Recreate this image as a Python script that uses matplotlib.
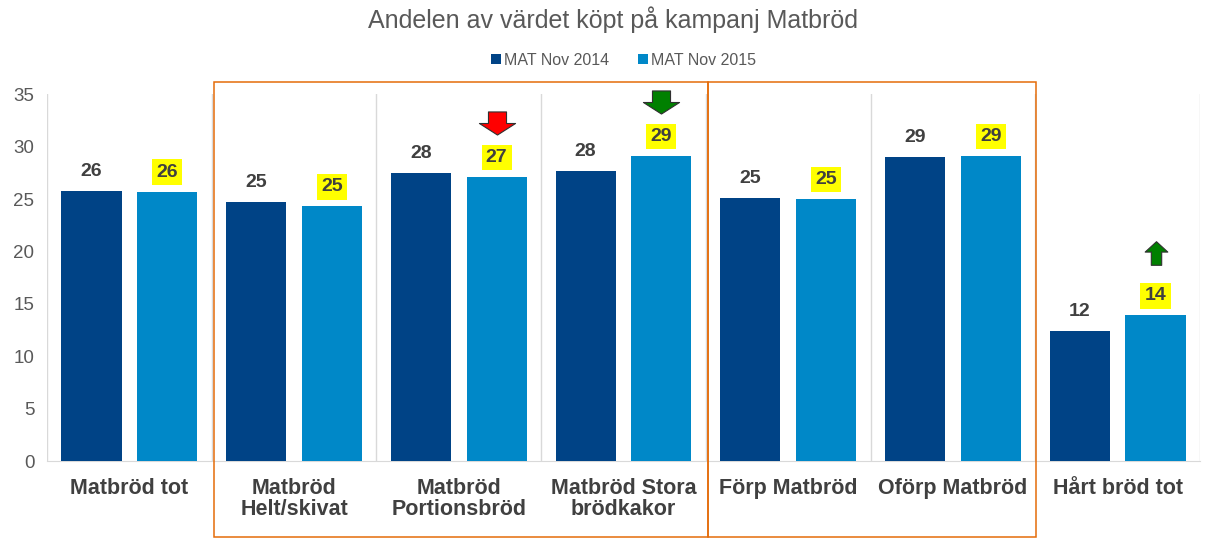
import matplotlib.pyplot as plt
import numpy as np
from matplotlib.patches import Rectangle
from matplotlib.path import Path
from matplotlib.transforms import offset_copy

plt.rcParams['font.family'] = ['Liberation Sans', 'DejaVu Sans']

categories = ['Matbröd tot', 'Matbröd\nHelt/skivat', 'Matbröd\nPortionsbröd',
              'Matbröd Stora\nbrödkakor', 'Förp Matbröd', 'Oförp Matbröd', 'Hårt bröd tot']
mat_2014 = [25.8, 24.7, 27.5, 27.7, 25.1, 29.0, 12.4]
mat_2015 = [25.7, 24.3, 27.1, 29.1, 25.0, 29.1, 13.9]
labels_2014 = ['26', '25', '28', '28', '25', '29', '12']
labels_2015 = ['26', '25', '27', '29', '25', '29', '14']
# arrows above 2015 bars: (category index, direction, colour)
arrows = [(2, 'down', 'red'), (3, 'down', 'green'), (6, 'up', 'green')]

c14 = '#004386'
c15 = '#0088c8'
txt = '#404040'

fig = plt.figure(figsize=(12.27, 5.51), dpi=100)
ax = fig.add_axes([0.0383, 0.1633, 0.9397, 0.6657])

x = np.arange(len(categories))
off = 0.23
w = 0.365
ax.bar(x - off, mat_2014, w, color=c14, label='MAT Nov 2014', zorder=3)
ax.bar(x + off, mat_2015, w, color=c15, label='MAT Nov 2015', zorder=3)

for i in range(len(categories)):
    ax.annotate(labels_2014[i], (x[i] - off, mat_2014[i]), xytext=(0, 8),
                textcoords='offset points', ha='center', va='bottom',
                fontsize=14, fontweight='bold', color=txt)
    ax.annotate(labels_2015[i], (x[i] + off, mat_2015[i]), xytext=(0, 8),
                textcoords='offset points', ha='center', va='bottom',
                fontsize=14, fontweight='bold', color=txt,
                bbox=dict(boxstyle='square,pad=0.22', fc='yellow', ec='none'))

# block arrow markers
down = Path([(-0.25, 0.32), (0.25, 0.32), (0.25, 0.0), (0.5, 0.0), (0.0, -0.32),
             (-0.5, 0.0), (-0.25, 0.0), (-0.25, 0.32)], closed=True)
up = Path([(-0.22, -0.5), (0.22, -0.5), (0.22, 0.06), (0.48, 0.06), (0.0, 0.5),
           (-0.48, 0.06), (-0.22, 0.06), (-0.22, -0.5)], closed=True)
for i, d, col in arrows:
    if d == 'down':
        mk, dy, ms = down, 39, 26
    else:
        mk, dy, ms = up, 45, 17
    tr = offset_copy(ax.transData, fig=fig, x=0, y=dy, units='points')
    ax.plot([x[i] + off], [mat_2015[i]], marker=mk, ms=ms, mfc=col, mec='#303030',
            mew=0.8, transform=tr, clip_on=False, zorder=6)

ax.set_xlim(-0.5, len(categories) - 0.5)
ax.set_ylim(0, 35)
ax.set_yticks(range(0, 36, 5))
ax.set_xticks(x)
ax.set_xticklabels(categories, fontsize=15.5, fontweight='bold', color=txt, linespacing=1.05)
ax.tick_params(axis='x', length=0, pad=12)
ax.tick_params(axis='y', length=0, labelsize=13.5, labelcolor='#595959', pad=9)
for s in ['top', 'right', 'left']:
    ax.spines[s].set_visible(False)
ax.spines['bottom'].set_color('#d9d9d9')
for b in np.arange(len(categories) + 1) - 0.5:
    ax.axvline(b, color='#d9d9d9', lw=1, zorder=1)

fig.text(0.5, 0.965, 'Andelen av värdet köpt på kampanj Matbröd', ha='center', va='center',
         fontsize=18, color='#595959')
ax.legend(loc='center', bbox_to_anchor=(0.5, 1.092), ncol=2, frameon=False, fontsize=11.5,
          handlelength=0.6, handleheight=0.6, handletextpad=0.2, columnspacing=1.8,
          labelcolor='#595959')

# orange frames around sub-groups
W, H = 1227, 551
for x0, x1 in [(214, 708), (708, 1036)]:
    fig.patches.append(Rectangle((x0 / W, 1 - 537 / H), (x1 - x0) / W, (537 - 82) / H,
                                 transform=fig.transFigure, fill=False,
                                 ec='#e46c0a', lw=1.1, zorder=5))

fig.savefig('out.png', dpi=100)
